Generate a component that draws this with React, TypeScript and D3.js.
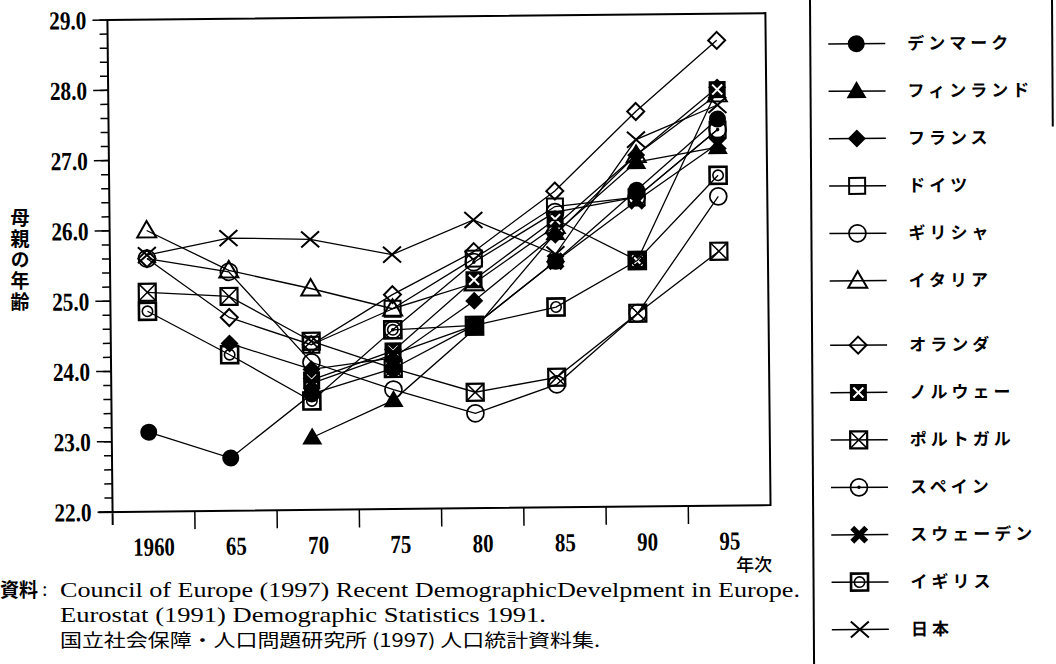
import React, { useRef, useEffect } from 'react';
import * as d3 from 'd3';

// 年次 (category axis) and value axis ticks
const years = ['1960', '65', '70', '75', '80', '85', '90', '95'];
const yMajor = [22, 23, 24, 25, 26, 27, 28, 29];

const countries = [
  'デンマーク', 'フィンランド', 'フランス', 'ドイツ', 'ギリシャ', 'イタリア', 'オランダ',
  'ノルウェー', 'ポルトガル', 'スペイン', 'スウェーデン', 'イギリス', '日本'
];
const markerTypes = [
  'dot', 'triFill', 'diamondFill', 'square', 'circle', 'tri', 'diamond',
  'boxXFill', 'boxX', 'circleDot', 'cross', 'squareCircle', 'x'
];

// 母親の年齢 (null = no point)
const denmark = [23.13, 22.75, 23.65, 24.0, 24.6, 25.5, 26.5, 27.5];
const finland = [null, null, 23.03, 23.55, 24.55, 25.9, 26.9, 27.1];
const france = [null, 24.38, 24.0, 24.15, 24.95, 25.88, 27.0, 27.95];
const germany = [null, null, 24.35, 24.85, 25.55, 26.28, 26.4, 27.35];
const greece = [25.6, 25.4, 24.1, 23.7, 23.35, 23.75, 24.75, 26.4];
const italy = [26.0, 25.42, 25.15, 24.85, 25.2, 26.0, 27.0, 27.85];
const netherlands = [25.6, 24.75, 24.35, 25.05, 25.65, 26.5, 27.62, 28.62];
const norway = [null, null, 23.85, 24.25, 25.25, 26.1, 25.5, 27.92];
const portugal = [25.12, 25.05, 24.4, 24.0, 23.65, 23.85, 24.75, 25.62];
const spain = [null, null, null, 24.55, 25.5, 26.2, 26.4, 27.35];
const sweden = [null, null, 23.8, 24.2, 24.6, 25.5, 26.35, 27.15];
const uk = [24.85, 24.22, 23.55, 24.55, 24.6, 24.85, 25.5, 26.7];
const japan = [25.65, 25.88, 25.85, 25.62, 26.1, 25.6, 27.22, 27.7];

const allSeries = [
  denmark, finland, france, germany, greece, italy, netherlands,
  norway, portugal, spain, sweden, uk, japan
];

const yTitle = '母親の年齢';
const xTitle = '年次';
const sourceHead = '資料';
const sourceLines = [
  'Council of Europe (1997) Recent DemographicDevelpment in Europe.',
  'Eurostat (1991) Demographic Statistics 1991.',
  '国立社会保障・人口問題研究所 (1997) 人口統計資料集.'
];

const serif = '"Liberation Serif", "DejaVu Serif", serif';
const gothic = '"Noto Sans CJK JP", "Noto Sans", sans-serif';

const drawMarker = (g, type) => {
  const outline = (sel, w) =>
    sel.attr('fill', 'none').attr('stroke', '#000').attr('stroke-width', w);
  switch (type) {
    case 'dot':
      g.append('circle').attr('r', 8.5).attr('fill', '#000');
      break;
    case 'triFill':
      g.append('path').attr('d', 'M0,-10L10,7L-10,7Z').attr('fill', '#000');
      break;
    case 'diamondFill':
      g.append('path').attr('d', 'M0,-9L9,0L0,9L-9,0Z').attr('fill', '#000');
      break;
    case 'square':
      outline(g.append('rect').attr('x', -8).attr('y', -8).attr('width', 16).attr('height', 16), 2);
      break;
    case 'circle':
      outline(g.append('circle').attr('r', 8.5), 1.7);
      break;
    case 'tri':
      outline(g.append('path').attr('d', 'M0,-9.5L9.5,7L-9.5,7Z'), 2);
      break;
    case 'diamond':
      outline(g.append('path').attr('d', 'M0,-8.5L8.5,0L0,8.5L-8.5,0Z'), 2);
      break;
    case 'boxXFill':
      g.append('rect').attr('x', -8.5).attr('y', -8.5).attr('width', 17).attr('height', 17).attr('fill', '#000');
      g.append('path').attr('d', 'M-5,-5L5,5M5,-5L-5,5').attr('stroke', '#fff').attr('stroke-width', 2);
      break;
    case 'boxX':
      outline(g.append('rect').attr('x', -8.5).attr('y', -8.5).attr('width', 17).attr('height', 17), 2.2);
      outline(g.append('path').attr('d', 'M-8,-8L8,8M8,-8L-8,8'), 1.5);
      break;
    case 'circleDot':
      outline(g.append('circle').attr('r', 8.5), 1.7);
      g.append('circle').attr('r', 1.8).attr('fill', '#000');
      break;
    case 'cross':
      g.append('path')
        .attr('d', 'M-7,-7L7,7M7,-7L-7,7')
        .attr('stroke', '#000')
        .attr('stroke-width', 5.5);
      break;
    case 'squareCircle':
      outline(g.append('rect').attr('x', -8.5).attr('y', -8.5).attr('width', 17).attr('height', 17), 2.6);
      outline(g.append('circle').attr('r', 5.2), 1.6);
      break;
    case 'x':
      outline(g.append('path').attr('d', 'M-9,-8L9,8M9,-8L-9,8'), 2);
      break;
    default:
      break;
  }
};

const draw = (svgRef) => {
  const svg = d3.select(svgRef.current);
  svg.selectAll('*').remove();

  const left = 110;
  const right = 768;
  const top = 20;
  const bottom = 512;

  const y = d3.scaleLinear().domain([22, 29]).range([bottom, top]);
  const band = d3.scaleBand().domain(years).range([left, right]);
  const xPt = d3.scalePoint().domain(years).range([147, 719]);
  const fmt = d3.format('.1f');

  svg.append('rect').attr('width', 1056).attr('height', 664).attr('fill', '#fff');

  // the scan is slightly tilted
  const plot = svg.append('g').attr('transform', `rotate(-0.6, ${left}, 266)`);

  plot
    .append('path')
    .attr('d', `M${left},${bottom + 13}V${top}H${right}V${bottom}H${left - 14}`)
    .attr('fill', 'none')
    .attr('stroke', '#000')
    .attr('stroke-width', 2);

  // minor ticks every 0.2
  const minor = d3.range(0, 36).map((i) => 22 + i * 0.2);
  plot
    .selectAll('line.minor')
    .data(minor)
    .enter()
    .append('line')
    .attr('x1', left - 8)
    .attr('x2', left)
    .attr('y1', (d) => y(d))
    .attr('y2', (d) => y(d))
    .attr('stroke', '#000')
    .attr('stroke-width', 1.5);

  plot
    .selectAll('line.major')
    .data(yMajor)
    .enter()
    .append('line')
    .attr('x1', left - 15)
    .attr('x2', left)
    .attr('y1', (d) => y(d))
    .attr('y2', (d) => y(d))
    .attr('stroke', '#000')
    .attr('stroke-width', 1.5);

  plot
    .selectAll('text.ylab')
    .data(yMajor)
    .enter()
    .append('text')
    .attr('transform', (d) => `translate(${left - 21},${y(d) + 9}) scale(0.82,1)`)
    .attr('text-anchor', 'end')
    .attr('font-family', serif)
    .attr('font-size', 26)
    .attr('font-weight', 'bold')
    .text((d) => fmt(d));

  // ticks between categories
  plot
    .selectAll('line.xtick')
    .data(years.slice(1))
    .enter()
    .append('line')
    .attr('x1', (d) => band(d))
    .attr('x2', (d) => band(d))
    .attr('y1', bottom)
    .attr('y2', bottom + 18)
    .attr('stroke', '#000')
    .attr('stroke-width', 1.5);

  plot
    .selectAll('text.xlab')
    .data(years)
    .enter()
    .append('text')
    .attr('transform', (d) => `translate(${band(d) + band.bandwidth() / 2},${bottom + 44}) scale(0.8,1)`)
    .attr('text-anchor', 'middle')
    .attr('font-family', serif)
    .attr('font-size', 26)
    .attr('font-weight', 'bold')
    .text((d) => d);

  plot
    .append('text')
    .attr('x', right - 35)
    .attr('y', bottom + 66)
    .attr('font-family', gothic)
    .attr('font-size', 18)
    .attr('font-weight', 500)
    .text(xTitle);

  // series
  const line = d3
    .line()
    .defined((d) => d.v != null)
    .x((d) => xPt(d.year))
    .y((d) => y(d.v));

  allSeries.forEach((vals, si) => {
    const pts = vals.map((v, i) => ({ year: years[i], v }));
    plot
      .append('path')
      .datum(pts)
      .attr('d', line)
      .attr('fill', 'none')
      .attr('stroke', '#000')
      .attr('stroke-width', 1.3);
    pts
      .filter((d) => d.v != null)
      .forEach((d) => {
        const g = plot.append('g').attr('transform', `translate(${xPt(d.year)},${y(d.v)})`);
        drawMarker(g, markerTypes[si]);
      });
  });

  // y title, written vertically
  svg
    .append('text')
    .attr('x', 20)
    .attr('y', 208)
    .attr('writing-mode', 'vertical-rl')
    .attr('font-family', gothic)
    .attr('font-size', 19)
    .attr('font-weight', 700)
    .attr('letter-spacing', 2)
    .text(yTitle);

  // legend
  const legend = svg.append('g').attr('transform', 'rotate(-0.35, 810, 0)');
  legend
    .append('line')
    .attr('x1', 810).attr('x2', 810).attr('y1', 0).attr('y2', 664)
    .attr('stroke', '#000').attr('stroke-width', 2);
  legend
    .append('line')
    .attr('x1', 1052).attr('x2', 1052).attr('y1', 0).attr('y2', 128)
    .attr('stroke', '#000').attr('stroke-width', 2);

  const legendY = (i) => 44 + i * 47.4 + (i >= 6 ? 17 : 0);
  countries.forEach((name, i) => {
    const ly = legendY(i);
    legend
      .append('line')
      .attr('x1', 828).attr('x2', 885).attr('y1', ly).attr('y2', ly)
      .attr('stroke', '#000').attr('stroke-width', 1.5);
    const g = legend.append('g').attr('transform', `translate(856,${ly})`);
    drawMarker(g, markerTypes[i]);
    legend
      .append('text')
      .attr('x', 907)
      .attr('y', ly + 6)
      .attr('font-family', gothic)
      .attr('font-size', 17)
      .attr('font-weight', 700)
      .attr('letter-spacing', 4)
      .text(name);
  });

  // source
  svg
    .append('text')
    .attr('x', 0)
    .attr('y', 597)
    .attr('font-family', gothic)
    .attr('font-size', 19)
    .attr('font-weight', 700)
    .text(sourceHead);
  svg
    .append('text')
    .attr('x', 42)
    .attr('y', 596)
    .attr('font-family', serif)
    .attr('font-size', 20)
    .text(':');
  const srcLen = [740, 486, 540];
  sourceLines.forEach((t, i) => {
    svg
      .append('text')
      .attr('x', 60)
      .attr('y', 597 + i * 25)
      .attr('font-family', i === 2 ? gothic : serif)
      .attr('font-size', i === 2 ? 18 : 21)
      .attr('textLength', srcLen[i])
      .attr('lengthAdjust', 'spacingAndGlyphs')
      .text(t);
  });
};

const App = () => {
  const ref = useRef(null);
  useEffect(() => {
    if (ref.current) draw(ref);
  }, []);
  return (
    <svg
      ref={ref}
      width={1056}
      height={664}
      style={{ position: 'absolute', left: 0, top: 0, display: 'block' }}
    />
  );
};

export default App;
